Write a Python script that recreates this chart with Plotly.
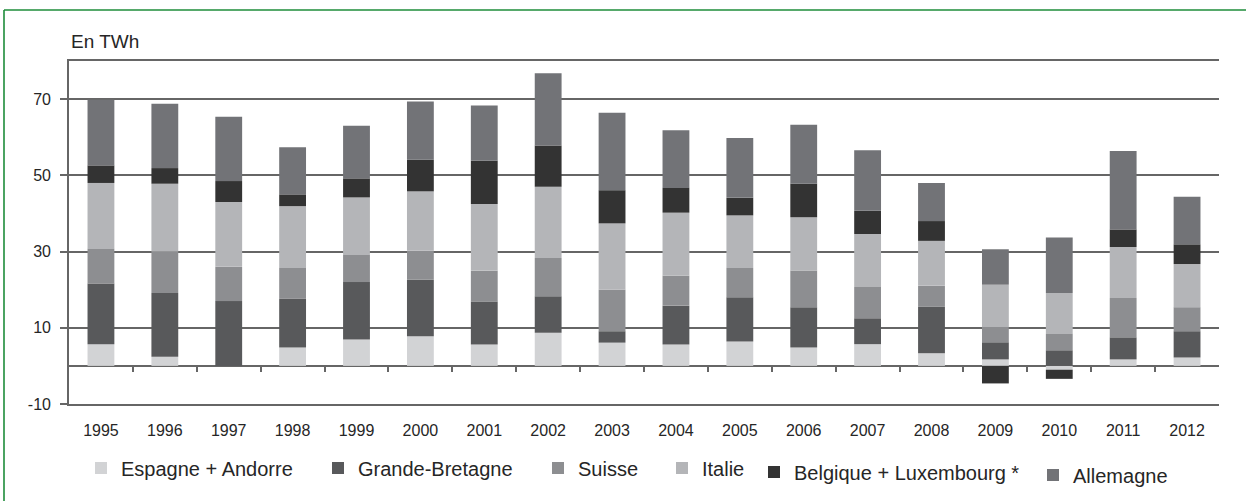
import plotly.graph_objects as go

years = [str(y) for y in range(1995, 2013)]

espagne = [5.7, 2.4, 0.0, 4.8, 6.9, 7.8, 5.6, 8.7, 6.1, 5.6, 6.4, 4.8, 5.7, 3.3, 1.7, -1.0, 1.7, 2.2]
grande_bretagne = [15.9, 16.7, 17.0, 12.8, 15.1, 14.8, 11.2, 9.6, 3.0, 10.2, 11.6, 10.6, 6.8, 12.2, 4.5, 4.1, 5.8, 6.9]
suisse = [9.1, 10.9, 9.0, 8.1, 7.1, 7.6, 8.2, 10.0, 10.9, 7.9, 7.7, 9.6, 8.2, 5.5, 4.0, 4.3, 10.3, 6.3]
italie = [17.3, 17.8, 17.0, 16.2, 15.1, 15.6, 17.5, 18.7, 17.4, 16.5, 13.8, 14.0, 13.9, 11.8, 11.1, 10.7, 13.4, 11.3]
belgique_lux = [4.6, 4.1, 5.5, 3.1, 5.0, 8.3, 11.3, 10.8, 8.7, 6.5, 4.6, 8.8, 6.1, 5.2, -4.6, -2.4, 4.6, 5.2]
allemagne = [17.2, 16.9, 16.9, 12.4, 13.8, 15.3, 14.5, 19.0, 20.3, 15.1, 15.7, 15.5, 15.9, 10.0, 9.3, 14.6, 20.6, 12.5]

series_names = ["Espagne + Andorre", "Grande-Bretagne", "Suisse", "Italie",
                "Belgique + Luxembourg *", "Allemagne"]
series_values = [espagne, grande_bretagne, suisse, italie, belgique_lux, allemagne]
series_colors = ["#d2d3d5", "#58595b", "#8d8e91", "#b4b5b8", "#333333", "#727377"]

y_tickvals = [-10, 10, 30, 50, 70]
y_ticktext = ["-10", "10", "30", "50", "70"]

# layout geometry (pixels)
W, H = 1246, 501
ML, MR, MT, MB = 69, 27, 61, 97
PW = W - ML - MR
PH = H - MT - MB


def px_x(px):
    return (px - ML) / PW


def px_y(py):
    return (H - MB - py) / PH


FONT = "Liberation Sans, Arial, sans-serif"
GRID = "#666666"
TEXT = "#262626"

legend_text_start = [121, 358, 578, 702, 794, 1073]
legend_text_mid = [468, 468, 468, 468, 472, 475]

fig = go.Figure()
for i, (name, vals, col) in enumerate(zip(series_names, series_values, series_colors)):
    lname = "legend" if i == 0 else f"legend{i + 1}"
    fig.add_trace(go.Bar(
        x=years, y=vals, name=name, marker=dict(color=col, line=dict(width=0)),
        legend=lname,
    ))

layout_legends = {}
for i in range(len(series_names)):
    lname = "legend" if i == 0 else f"legend{i + 1}"
    layout_legends[lname] = dict(
        orientation="h", x=px_x(legend_text_start[i] - 40), y=px_y(legend_text_mid[i]),
        xanchor="left", yanchor="middle", bgcolor="rgba(0,0,0,0)",
        font=dict(family=FONT, size=20, color=TEXT), itemwidth=30,
    )

n = len(years)
fig.update_layout(
    width=W, height=H,
    margin=dict(l=ML, r=MR, t=MT, b=MB, autoexpand=False),
    paper_bgcolor="white", plot_bgcolor="white",
    barmode="relative", bargap=0.58,
    showlegend=True,
    xaxis=dict(
        type="category", categoryorder="array", categoryarray=years,
        range=[-0.5, n - 0.5], showgrid=False,
        showline=True, mirror=True, linecolor=GRID, linewidth=1.7,
        ticks="outside", ticklen=11, tickcolor="rgba(0,0,0,0)",
        tickfont=dict(family=FONT, size=16, color=TEXT),
    ),
    xaxis2=dict(
        overlaying="x", anchor="free", position=(0 - (-10)) / 90,
        type="linear", range=[-0.5, n - 0.5],
        tickvals=[i + 0.5 for i in range(n - 1)], showticklabels=False,
        ticks="outside", ticklen=5, tickwidth=1.5, tickcolor=GRID,
        showgrid=False, showline=False, zeroline=False,
    ),
    yaxis=dict(
        range=[-10, 80], tickvals=y_tickvals, ticktext=y_ticktext,
        showgrid=True, gridcolor=GRID, gridwidth=1.7,
        zeroline=True, zerolinecolor=GRID, zerolinewidth=1.7,
        showline=True, linecolor=GRID, linewidth=1.7,
        ticks="outside", ticklen=7, tickwidth=1.7, tickcolor=GRID,
        ticklabelstandoff=6,
        tickfont=dict(family=FONT, size=16, color=TEXT),
    ),
    annotations=[dict(
        text="En TWh", xref="paper", yref="paper", x=px_x(69), y=px_y(41),
        xanchor="left", yanchor="middle", showarrow=False,
        font=dict(family=FONT, size=19, color=TEXT),
    )],
    shapes=[
        dict(type="line", xref="paper", yref="paper", x0=px_x(4), x1=px_x(W + 5),
             y0=px_y(10), y1=px_y(10), line=dict(color="#1e8c3a", width=1.6)),
        dict(type="line", xref="paper", yref="paper", x0=px_x(4), x1=px_x(4),
             y0=px_y(10), y1=px_y(H + 5), line=dict(color="#1e8c3a", width=1.6)),
    ],
    **layout_legends,
)

# invisible helper trace so the overlaid tick axis renders
fig.add_trace(go.Scatter(x=[0], y=[0], xaxis="x2", yaxis="y", mode="markers",
                         marker=dict(opacity=0), showlegend=False, hoverinfo="skip"))

fig.write_html(
    "out.html",
    config={"displayModeBar": False},
    post_script="document.body.style.margin='0';document.body.style.padding='0';"
                "document.documentElement.style.overflow='hidden';",
)
